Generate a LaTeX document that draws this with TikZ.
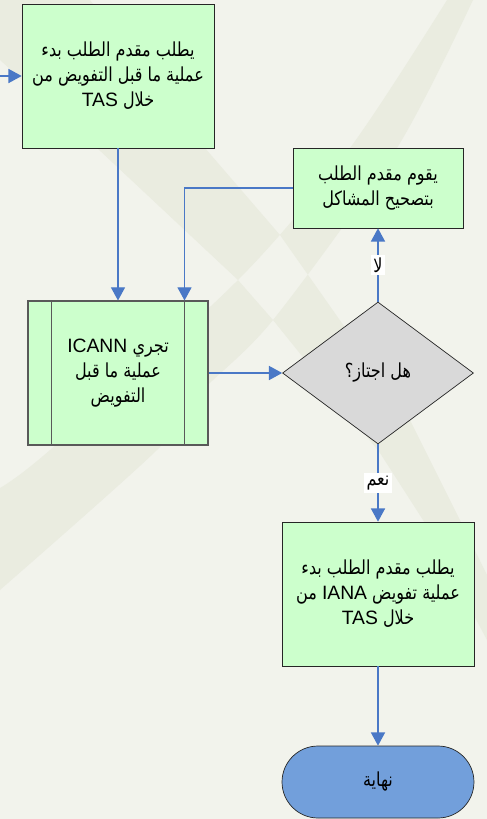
\documentclass[tikz,border=0pt]{standalone}
\usepackage{fontspec}
\setmainfont{Liberation Sans}
\newfontfamily\arabicfont[Script=Arabic,FakeStretch=0.83]{DejaVu Sans}
\TeXXeTstate=1
\usepackage{tikz}
\usetikzlibrary{arrows.meta}
\usetikzlibrary{shapes.geometric}
\definecolor{pagebg}{HTML}{F2F3EC}
\definecolor{bandbg}{HTML}{EAECE0}
\definecolor{procgreen}{HTML}{CCFFCC}
\definecolor{decgray}{HTML}{D9D9D9}
\definecolor{termblue}{HTML}{729FDB}
\definecolor{flowblue}{HTML}{4A78C6}
\newcommand{\arline}[1]{{\arabicfont\beginR #1\endR}}
\newcommand{\ltrword}[1]{\beginL{\rmfamily #1}\endL}

\begin{document}
\begin{tikzpicture}[
        x=0.02cm, y=-0.02cm,
        every node/.style={font=\fontsize{11}{14.2}\selectfont},
        process/.style={rectangle,draw=black!85,fill=procgreen,align=center,
                        minimum width=3.84cm,minimum height=2.88cm,inner sep=0pt},
        fixbox/.style={process,minimum width=3.4cm,minimum height=1.6cm},
        predef/.style={process,draw=black!65,line width=0.6pt,minimum width=3.6cm},
        decision/.style={diamond,draw=black!85,fill=decgray,aspect=1.35,
                         minimum width=3.82cm,minimum height=2.84cm,inner sep=0pt},
        terminal/.style={rectangle,rounded corners=0.72cm,draw=black!85,fill=termblue,
                         minimum width=3.84cm,minimum height=1.44cm},
        flow/.style={draw=flowblue,line width=0.7pt,-{Triangle[width=8pt,length=7.5pt]}},
        answer/.style={fill=white,inner sep=1.5pt,font=\fontsize{11}{12}\selectfont}
      ]

      % page background with the faint crossing bands
      \fill[pagebg] (0,0) rectangle (487,819);
      \useasboundingbox (0,0) rectangle (487,819);
      \fill[bandbg,even odd rule]
        plot[smooth] coordinates {(0,488) (50,450) (238,280) (350,148) (447,0)}
        -- (473,0) --
        plot[smooth] coordinates {(473,0) (397,148) (273,320) (200,393) (157,450) (0,590)}
        -- cycle
        (0,60) -- (97,148) -- (238,280) -- (273,320) -- (380,453) -- (423,520) -- (487,640)
        -- (487,575) -- (460,520) -- (410,420) -- (280,235) -- (205,148) -- (90,0) -- (0,0) -- cycle;

      % left column: the pre-delegation steps
      \node (tas) [process] at (118,76) {\arline{يطلب مقدم الطلب بدء}\\ \arline{عملية ما قبل التفويض من}\\ \arline{خلال \ltrword{TAS}}};
      \node (icann) [predef] at (118,373) {\arline{تجري \ltrword{ICANN}}\\ \arline{عملية ما قبل}\\ \arline{التفويض}};

      % right column: the check and its outcomes
      \node (fix) [fixbox] at (378,188) {\arline{يقوم مقدم الطلب}\\ \arline{بتصحيح المشاكل}};
      \node (pass) [decision] at (378,373) {\arline{هل اجتاز؟}};
      \node (iana) [process] at (378,594) {\arline{يطلب مقدم الطلب بدء}\\ \arline{عملية تفويض \ltrword{IANA} من}\\ \arline{خلال \ltrword{TAS}}};
      \node (stop) [terminal] at (378,782) {\arline{نهاية}};

      % side bars of the predefined process
      \draw[black!65,line width=0.6pt] ([xshift=0.48cm]icann.north west) -- ([xshift=0.48cm]icann.south west);
      \draw[black!65,line width=0.6pt] ([xshift=-0.48cm]icann.north east) -- ([xshift=-0.48cm]icann.south east);

      % connectors
      \coordinate (entry) at ([xshift=-0.5cm]tas.west);
      \coordinate (icannin) at ([xshift=-0.48cm]icann.north east);
      \draw[flow] (entry) -- (tas.west);
      \draw[flow] (tas.south) -- (icann.north);
      \draw[flow] (fix.west) -| (icannin);
      \draw[flow] (icann.east) -- (pass.west);
      \draw[flow] (pass.north) -- node[answer] {\arline{لا}} (fix.south);
      \draw[flow] (pass.south) -- node[answer] {\arline{نعم}} (iana.north);
      \draw[flow] (iana.south) -- (stop.north);
    \end{tikzpicture}
\end{document}
